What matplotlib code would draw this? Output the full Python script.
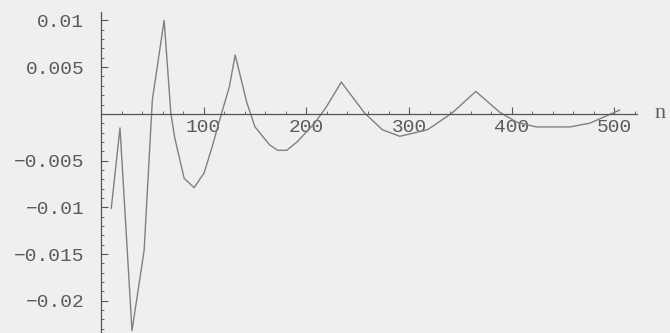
import numpy as np
import matplotlib.pyplot as plt
from matplotlib.ticker import MultipleLocator

# error term sampled along n
n = [10, 18.5, 30.2, 42, 50, 61.5, 68, 71.7, 81, 90.7, 100.5, 108.3, 117, 125, 130.7,
     142, 150, 164, 172, 181, 191, 208, 219.5, 234, 247, 256.6, 274, 291, 318, 342,
     365, 388, 405, 424, 456.6, 476, 505]
err = [-0.0101, -0.0015, -0.0232, -0.0146, 0.0015, 0.0100, 0.0001, -0.0025, -0.0069,
       -0.0079, -0.0063, -0.0035, -0.0001, 0.0029, 0.0063, 0.0012, -0.0014, -0.0033,
       -0.0039, -0.0039, -0.0030, -0.0010, 0.00075, 0.0034, 0.0015, 0.0001, -0.0017,
       -0.0024, -0.0017, 0.0001, 0.0024, 0.0002, -0.0009, -0.0014, -0.0014, -0.0010,
       0.0004]

yticks = [-0.02, -0.015, -0.01, -0.005, 0.005, 0.01]
ylabels = ["\u22120.02", "\u22120.015", "\u22120.01", "\u22120.005", "0.005", "0.01"]
xticks = [100, 200, 300, 400, 500]

bg = "#efefed"
ink = "#555555"

fig = plt.figure(figsize=(6.7, 3.33), dpi=100, facecolor=bg)
ax = fig.add_axes([101 / 670, 0.0, (637 - 101) / 670, (333 - 12) / 333], facecolor=bg)

ax.plot(n, err, color="#808080", lw=1.0)

ax.set_xlim(0, 522)
ax.set_ylim(-0.02345, 0.0109)

ax.spines["left"].set_position(("data", 0))
ax.spines["bottom"].set_position(("data", 0))
ax.spines["top"].set_visible(False)
ax.spines["right"].set_visible(False)
for s in ("left", "bottom"):
    ax.spines[s].set_color(ink)
    ax.spines[s].set_linewidth(0.9)

ax.set_xticks(xticks)
ax.set_xticklabels([str(t) for t in xticks])
ax.xaxis.set_minor_locator(MultipleLocator(20))
ax.set_yticks(yticks)
ax.set_yticklabels(ylabels)
ax.yaxis.set_minor_locator(MultipleLocator(0.001))

ax.tick_params(which="major", direction="in", length=5, width=0.8, color=ink,
               labelsize=14, labelcolor="#5a5a5a")
ax.tick_params(which="minor", direction="in", length=2.5, width=0.6, color=ink)
ax.tick_params(axis="x", pad=4)
ax.tick_params(axis="y", pad=12)
for lab in ax.get_xticklabels() + ax.get_yticklabels():
    lab.set_family("Liberation Mono")

ax.text(1.043, 0.0, "n", transform=ax.get_yaxis_transform(), ha="center", va="center",
        fontsize=16, family="Liberation Serif", color="#5a5a5a", clip_on=False)

fig.savefig("out.png", dpi=100, facecolor=bg)
